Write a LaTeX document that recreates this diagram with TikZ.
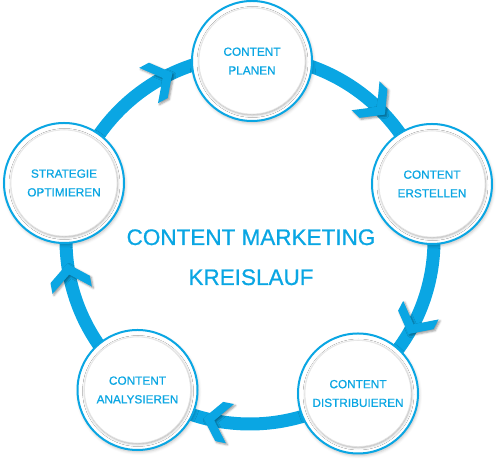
\documentclass[tikz,border=0pt]{standalone}
\usepackage{fontspec}
\setmainfont{Liberation Sans}
\newfontfamily\medfont[FakeBold=0.7]{Liberation Sans}
\usetikzlibrary{shadows.blur}
\definecolor{kblue}{HTML}{0AA6E3}
\begin{document}
\begin{tikzpicture}[x=1pt,y=1pt,
  ring/.style={draw=kblue, line width=13pt},
  chevron/.style={fill=kblue, blur shadow={shadow xshift=1.5pt, shadow yshift=-1.5pt, shadow blur radius=2pt, shadow opacity=40}},
  stage/.style={circle, minimum size=120pt, inner sep=0pt, fill=white, draw=kblue, line width=2pt,
    blur shadow={shadow xshift=1pt, shadow yshift=-2pt, shadow blur radius=3pt, shadow opacity=25}},
  stagein/.style={circle, minimum size=106pt, inner sep=0pt, fill=white, draw=black!10, line width=0.6pt,
    blur shadow={shadow xshift=0.5pt, shadow yshift=-1pt, shadow blur radius=2.5pt, shadow opacity=35},
    text=kblue, align=center, font=\medfont\fontsize{11.8}{18.7}\selectfont},
  title/.style={text=kblue, font=\medfont\fontsize{22.5}{27}\selectfont, inner sep=0pt, anchor=base}
  ]
\useasboundingbox (0,0) rectangle (496,462);
\coordinate (C) at (250,222);
\draw[ring] (C) circle[radius=184];
\foreach \a in {118,46,-27.6,-101.5,190.5}{
  \fill[chevron, shift={(C)}, rotate=\a, shift={(184,0)}, rotate=-90]
    (10,0) -- (-6,20) -- (-17,20) -- (-1,0) -- (-17,-20) -- (-6,-20) -- cycle;
}
\node[stage] (plan) at (252,401) {};
\node[stagein] (planIn) at (plan) {CONTENT\\PLANEN};
\node[stage] (erst) at (432,278) {};
\node[stagein] (erstIn) at (erst) {CONTENT\\ERSTELLEN};
\node[stage] (dist) at (358,68.5) {};
\node[stagein] (distIn) at (dist) {CONTENT\\DISTRIBUIEREN};
\node[stage] (anal) at (137.5,72) {};
\node[stagein] (analIn) at (anal) {CONTENT\\ANALYSIEREN};
\node[stage] (strat) at (64,279) {};
\node[stagein] (stratIn) at (strat) {STRATEGIE\\OPTIMIEREN};
\node[title] (t1) at (251,217) {CONTENT MARKETING};
\node[title] (t2) at (251,177) {KREISLAUF};
\end{tikzpicture}
\end{document}
